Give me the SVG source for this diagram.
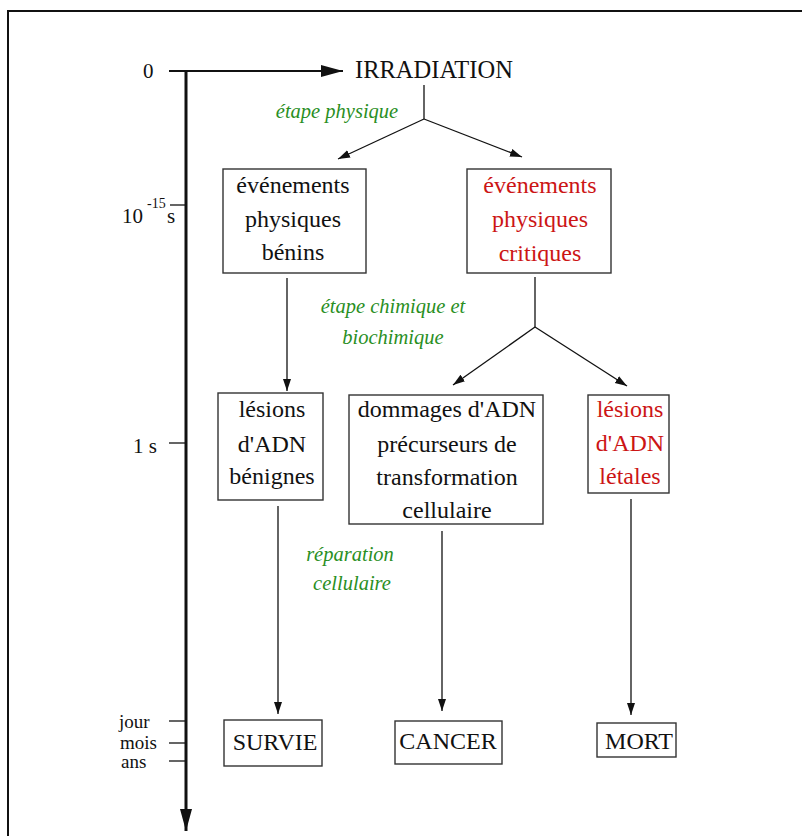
<svg xmlns="http://www.w3.org/2000/svg" width="802" height="836" viewBox="0 0 802 836">
<defs>
<style>
text{font-family:"Liberation Serif","Times New Roman",serif;fill:#111}
.t{font-size:24px;text-anchor:middle}
.red{fill:#cc1515}
.g{font-size:20.5px;font-style:italic;fill:#2a8f1f;text-anchor:middle}
.ax{font-size:21px}
.sm{font-size:19px}
.box{fill:#fff;stroke:#333;stroke-width:1.4}
.c{stroke:#111;stroke-width:1.3;fill:none}
.tick{stroke:#111;stroke-width:1.3}
</style>
<marker id="ah" markerUnits="userSpaceOnUse" markerWidth="14" markerHeight="10" refX="12" refY="4" orient="auto">
<path d="M0,0 L12,4 L0,8 Z" fill="#111"/>
</marker>
<marker id="bh" markerUnits="userSpaceOnUse" markerWidth="24" markerHeight="14" refX="22" refY="6" orient="auto">
<path d="M0,0 L22,6 L0,12 Z" fill="#111"/>
</marker>
</defs>
<rect x="8" y="11" width="820" height="860" fill="none" stroke="#111" stroke-width="2"/>

<g id="axes">
<line x1="169" y1="71" x2="343" y2="71" stroke="#111" stroke-width="2" marker-end="url(#bh)"/>
<line x1="186" y1="71" x2="186" y2="831" stroke="#111" stroke-width="3" marker-end="url(#bh)"/>
<line class="tick" x1="170" y1="205" x2="186" y2="205"/>
<line class="tick" x1="169" y1="443" x2="186" y2="443"/>
<line class="tick" x1="169" y1="721" x2="186" y2="721"/>
<line class="tick" x1="169" y1="743" x2="186" y2="743"/>
<line class="tick" x1="169" y1="761" x2="186" y2="761"/>
<text class="ax" x="143" y="78">0</text>
<text class="ax" x="122" y="223">10</text>
<text x="147" y="208" font-size="14">-15</text>
<text class="ax" x="167" y="223">s</text>
<text class="ax" x="133" y="453">1 s</text>
<text class="sm" x="119" y="728">jour</text>
<text class="sm" x="120" y="749">mois</text>
<text class="sm" x="121" y="768">ans</text>
</g>

<g id="connectors">
<polyline class="c" points="424,85 424,119"/>
<line class="c" x1="424" y1="119" x2="338" y2="159" marker-end="url(#ah)"/>
<line class="c" x1="424" y1="119" x2="522" y2="157" marker-end="url(#ah)"/>
<line class="c" x1="287" y1="278" x2="287" y2="391" marker-end="url(#ah)"/>
<polyline class="c" points="535,277 535,327"/>
<line class="c" x1="535" y1="327" x2="453" y2="385" marker-end="url(#ah)"/>
<line class="c" x1="535" y1="327" x2="627" y2="386" marker-end="url(#ah)"/>
<line class="c" x1="278" y1="506" x2="278" y2="714" marker-end="url(#ah)"/>
<line class="c" x1="442" y1="531" x2="442" y2="711" marker-end="url(#ah)"/>
<line class="c" x1="631" y1="499" x2="631" y2="715" marker-end="url(#ah)"/>
</g>

<g id="labels">
<text class="g" x="337" y="118">étape physique</text>
<text class="g" x="393" y="313">étape chimique et</text>
<text class="g" x="393" y="344">biochimique</text>
<text class="g" x="350" y="561">réparation</text>
<text class="g" x="352" y="590">cellulaire</text>
</g>

<g id="irradiation">
<text x="355" y="78" font-size="24.5">IRRADIATION</text>
</g>

<g id="evenements-benins">
<rect class="box" x="223" y="169" width="143" height="104"/>
<text class="t" x="293" y="193">événements</text>
<text class="t" x="293" y="227">physiques</text>
<text class="t" x="293" y="260">bénins</text>
</g>

<g id="evenements-critiques">
<rect class="box" x="467" y="169" width="144" height="104"/>
<text class="t red" x="540" y="193">événements</text>
<text class="t red" x="540" y="227">physiques</text>
<text class="t red" x="540" y="261">critiques</text>
</g>

<g id="lesions-benignes">
<rect class="box" x="218" y="393" width="105" height="107"/>
<text class="t" x="272" y="417">lésions</text>
<text class="t" x="272" y="452">d'ADN</text>
<text class="t" x="272" y="484">bénignes</text>
</g>

<g id="dommages">
<rect class="box" x="349" y="395" width="194" height="129"/>
<text class="t" x="447" y="417">dommages d'ADN</text>
<text class="t" x="447" y="452">précurseurs de</text>
<text class="t" x="447" y="485">transformation</text>
<text class="t" x="447" y="518">cellulaire</text>
</g>

<g id="lesions-letales">
<rect class="box" x="588" y="395" width="81" height="98"/>
<text class="t red" x="630" y="417">lésions</text>
<text class="t red" x="630" y="451">d'ADN</text>
<text class="t red" x="630" y="484">létales</text>
</g>

<g id="survie">
<rect class="box" x="224" y="720" width="98" height="46"/>
<text class="t" x="275" y="750">SURVIE</text>
</g>

<g id="cancer">
<rect class="box" x="395" y="721" width="107" height="43"/>
<text class="t" x="448" y="749">CANCER</text>
</g>

<g id="mort">
<rect class="box" x="597" y="723" width="79" height="34"/>
<text class="t" x="639" y="749">MORT</text>
</g>
</svg>
